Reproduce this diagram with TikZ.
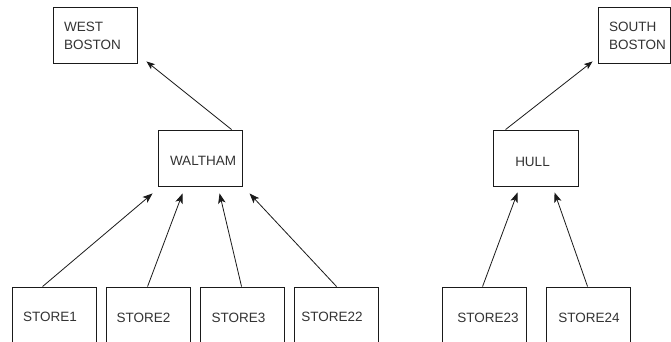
\documentclass[tikz,border=0pt]{standalone}
\usepackage{fontspec}
\setmainfont{Liberation Sans}
\usetikzlibrary{arrows.meta,calc}

\definecolor{ink}{HTML}{1A1A1A}
\definecolor{txt}{HTML}{333333}

\tikzset{
  box/.style={draw=ink, line width=0.9pt, rectangle, inner sep=0pt,
              minimum width=84pt, minimum height=56pt},
  storebox/.style={box, minimum height=70pt},
  lbl/.style={text=txt, font=\fontsize{13.5}{18}\selectfont, inner sep=0pt},
  twoline/.style={lbl, align=left, text width=62pt},
  arr/.style={draw=ink, line width=0.8pt, -{Stealth[length=10pt,width=7.5pt,inset=2.5pt]}},
  arrsmall/.style={draw=ink, line width=0.8pt, -{Stealth[length=8.5pt,width=6.5pt,inset=2pt]}}
}

\begin{document}
\begin{tikzpicture}[x=1pt, y=-1pt]
  \clip (0,0) rectangle (671,342);
  \fill[white] (0,0) rectangle (671,342);

  % regional offices
  \node[box] (westboston) at (95,35) {};
  \node[twoline, anchor=west] (westbostontxt) at (64,36) {WEST\\BOSTON};
  \node[box, minimum width=72pt] (southboston) at (634,35) {};
  \node[twoline, anchor=west] (southbostontxt) at (609,36) {SOUTH\\BOSTON};

  % district offices
  \node[box, label={[lbl, xshift=3pt, yshift=-3pt]center:WALTHAM}] (waltham) at (200,158) {};
  \node[box, minimum width=85pt, label={[lbl, xshift=-3pt, yshift=-4pt]center:HULL}] (hull) at (535.5,158) {};

  % stores (boxes run past the lower edge)
  \node[storebox, label={[lbl, xshift=-4pt, yshift=5pt]center:STORE1}] (store1) at (54,322) {};
  \node[storebox, label={[lbl, xshift=-4.5pt, yshift=4pt]center:STORE2}] (store2) at (148,322) {};
  \node[storebox, label={[lbl, xshift=-3.5pt, yshift=4pt]center:STORE3}] (store3) at (242,322) {};
  \node[storebox, label={[lbl, xshift=-4pt, yshift=5pt]center:STORE22}] (store22) at (336,322) {};
  \node[storebox, label={[lbl, xshift=4pt, yshift=4pt]center:STORE23}] (store23) at (484,322) {};
  \node[storebox, label={[lbl, xshift=1pt, yshift=4pt]center:STORE24}] (store24) at (588,322) {};

  % reporting lines
  \draw[arrsmall] ($(waltham.north west)+(74,0)$) -- ($(westboston.south east)+(9,-2)$);
  \draw[arr] ($(store1.north west)+(31,0)$) -- ($(waltham.south west)+(-5,7)$);
  \draw[arr] ($(store2.north west)+(42,0)$) -- ($(waltham.south west)+(25,7)$);
  \draw[arr] ($(store3.north west)+(42,0)$) -- ($(waltham.south west)+(62,7)$);
  \draw[arr] ($(store22.north west)+(43,0)$) -- ($(waltham.south west)+(92,7)$);

  \draw[arrsmall] ($(hull.north west)+(13,0)$) -- ($(southboston.south west)+(-5,-2)$);
  \draw[arr] ($(store23.north west)+(41,0)$) -- ($(hull.south west)+(25,6)$);
  \draw[arr] ($(store24.north west)+(42,0)$) -- ($(hull.south west)+(62,6)$);
\end{tikzpicture}
\end{document}
